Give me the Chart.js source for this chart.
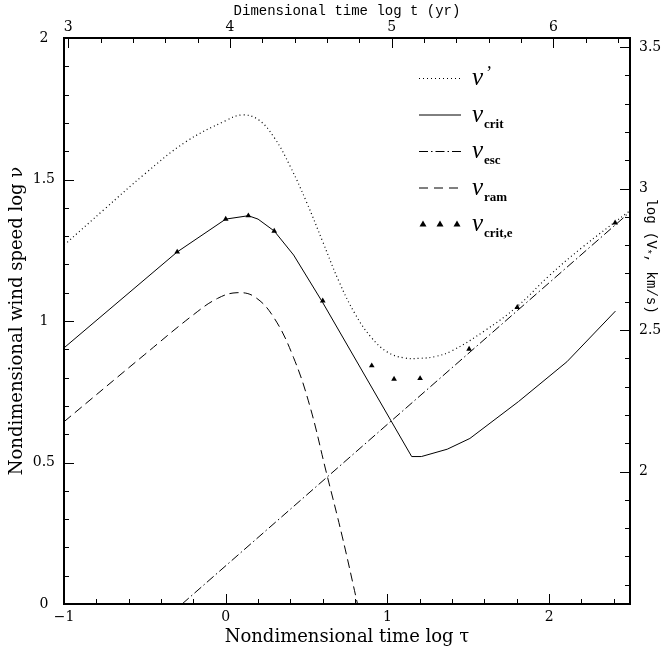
<!DOCTYPE html>
<html>
<head>
<meta charset="utf-8">
<script src="https://cdn.jsdelivr.net/npm/chart.js@4/dist/chart.umd.min.js"></script>
<style>
  body { margin: 0; background: #fff; }
</style>
</head>
<body>
<canvas id="windChart" width="663" height="653"></canvas>
<script>
// values: x = log tau, y = log nu
const tauPrime = [-1, -0.75, -0.5, -0.25, 0.0, 0.1, 0.2, 0.3, 0.4, 0.5, 0.6, 0.7, 0.8, 0.9, 1.0, 1.1, 1.2, 1.3, 1.4, 1.6, 1.8, 2.0, 2.2, 2.5];
const nuPrime = [1.268, 1.395, 1.52, 1.632, 1.708, 1.728, 1.712, 1.648, 1.545, 1.42, 1.28, 1.14, 1.025, 0.942, 0.89, 0.87, 0.868, 0.875, 0.895, 0.965, 1.05, 1.16, 1.258, 1.39];

const tauCrit = [-1, -0.3, 0.0, 0.14, 0.2, 0.3, 0.42, 0.6, 1.15, 1.21, 1.37, 1.51, 1.81, 2.11, 2.41];
const nuCrit = [0.905, 1.244, 1.36, 1.372, 1.36, 1.318, 1.233, 1.065, 0.521, 0.521, 0.547, 0.585, 0.715, 0.856, 1.035];

const tauEsc = [-0.27, 2.5];
const nuEsc = [0, 1.385];

const tauRam = [-1, -0.5, -0.2, -0.05, 0.07, 0.18, 0.3, 0.42, 0.52, 0.62, 0.72, 0.815];
const nuRam = [0.644, 0.882, 1.022, 1.08, 1.10, 1.085, 1.01, 0.87, 0.70, 0.47, 0.24, 0.0];

const tauCritE = [-0.3, 0.0, 0.14, 0.3, 0.6, 0.903, 1.041, 1.202, 1.505, 1.803, 2.408];
const nuCritE = [1.244, 1.36, 1.372, 1.318, 1.071, 0.842, 0.795, 0.797, 0.901, 1.048, 1.347];

// tick labels
const tauTicks = [-1, 0, 1, 2];
const logTTicks = [3, 4, 5, 6];
const nuTicks = [0, 0.5, 1, 1.5, 2];
const logVTicks = [2, 2.5, 3, 3.5];

// secondary axes are shifted copies of the main ones
const logTOffset = 3.974;
const logVOffset = 1.532;

const legendNames = ["'", 'crit', 'esc', 'ram', 'crit,e'];

function pts(xs, ys) {
  return xs.map((x, i) => ({ x: x, y: ys[i] }));
}

function minorTicks(from, to, step) {
  const arr = [];
  const n = Math.round((to - from) / step);
  for (let i = 0; i <= n; i++) {
    arr.push({ value: Math.round((from + i * step) * 1000) / 1000 });
  }
  return arr;
}

function tickLabel(v, majors) {
  for (let i = 0; i < majors.length; i++) {
    if (Math.abs(majors[i] - v) < 1e-6) return String(majors[i]).replace('-', '\u2212');
  }
  return '';
}

function isMajor(v, step) {
  return Math.abs(v / step - Math.round(v / step)) < 1e-6;
}

const serif = 'DejaVu Serif';
const mono = 'Liberation Mono';
const tickFont = { family: serif, size: 14 };

// inward tick marks and heavy frame
const frameAndTicks = {
  id: 'frameAndTicks',
  afterDatasetsDraw(chart) {
    const ctx = chart.ctx;
    const a = chart.chartArea;
    ctx.save();
    ctx.strokeStyle = '#000';
    ctx.lineWidth = 1;
    const sides = [['x', 'bottom', 1], ['x2', 'top', 1], ['y', 'left', 0.5], ['y2', 'right', 0.5]];
    sides.forEach(s => {
      const scale = chart.scales[s[0]];
      scale.ticks.forEach(t => {
        const p = Math.round(scale.getPixelForValue(t.value)) + 0.5;
        const len = isMajor(t.value, s[2]) ? 10 : 5;
        ctx.beginPath();
        if (s[1] === 'bottom') { ctx.moveTo(p, a.bottom); ctx.lineTo(p, a.bottom - len); }
        if (s[1] === 'top') { ctx.moveTo(p, a.top); ctx.lineTo(p, a.top + len); }
        if (s[1] === 'left') { ctx.moveTo(a.left, p); ctx.lineTo(a.left + len, p); }
        if (s[1] === 'right') { ctx.moveTo(a.right, p); ctx.lineTo(a.right - len, p); }
        ctx.stroke();
      });
    });
    ctx.lineWidth = 2;
    ctx.strokeRect(a.left, a.top, a.right - a.left, a.bottom - a.top);
    ctx.restore();
  }
};

// legend with subscripts, and the right axis title
const legendAndRightTitle = {
  id: 'legendAndRightTitle',
  afterDraw(chart) {
    const ctx = chart.ctx;
    ctx.save();
    ctx.strokeStyle = '#000';
    ctx.fillStyle = '#000';
    ctx.lineWidth = 1;
    const dashes = [[1, 3], [], [9, 3, 1.5, 3], [9, 6]];
    for (let i = 0; i < 5; i++) {
      const y = 78 + i * 36.5;
      if (i < 4) {
        ctx.setLineDash(dashes[i]);
        ctx.beginPath();
        ctx.moveTo(419, y + 0.5);
        ctx.lineTo(461, y + 0.5);
        ctx.stroke();
        ctx.setLineDash([]);
      } else {
        [423, 440, 457].forEach(x => {
          ctx.beginPath();
          ctx.moveTo(x, y - 3.5);
          ctx.lineTo(x + 3.5, y + 2.5);
          ctx.lineTo(x - 3.5, y + 2.5);
          ctx.closePath();
          ctx.fill();
        });
      }
      ctx.textBaseline = 'alphabetic';
      ctx.textAlign = 'left';
      ctx.font = 'italic 25px "Liberation Serif"';
      ctx.fillText('\u03bd', 472, y + 7);
      if (i === 0) {
        ctx.font = 'italic 18px "Liberation Serif"';
        ctx.fillText('\u2019', 485, y + 1);
      } else {
        ctx.font = 'bold 13px "Liberation Serif"';
        ctx.fillText(legendNames[i], 484, y + 13);
      }
    }

    // right axis title, reads top to bottom
    ctx.translate(651, 256);
    ctx.rotate(Math.PI / 2);
    const p1 = 'log (V';
    const p2 = ', km/s)';
    ctx.font = '14px "' + mono + '"';
    const w1 = ctx.measureText(p1).width;
    const w3 = ctx.measureText(p2).width;
    ctx.font = '10px "' + mono + '"';
    const w2 = ctx.measureText('*').width;
    let x = -(w1 + w2 + w3) / 2;
    ctx.textBaseline = 'middle';
    ctx.font = '14px "' + mono + '"';
    ctx.fillText(p1, x, 0);
    x += w1;
    ctx.font = '10px "' + mono + '"';
    ctx.fillText('*', x, 4);
    x += w2;
    ctx.font = '14px "' + mono + '"';
    ctx.fillText(p2, x, 0);
    ctx.restore();
  }
};

const lineBase = {
  showLine: true,
  pointRadius: 0,
  borderColor: '#000',
  borderWidth: 1,
  fill: false
};

new Chart('windChart', {
  type: 'scatter',
  data: {
    datasets: [
      Object.assign({}, lineBase, { label: "nu'", data: pts(tauPrime, nuPrime), borderDash: [1, 3], borderWidth: 1.2, tension: 0.4 }),
      Object.assign({}, lineBase, { label: 'nu crit', data: pts(tauCrit, nuCrit), tension: 0 }),
      Object.assign({}, lineBase, { label: 'nu esc', data: pts(tauEsc, nuEsc), borderDash: [9, 3, 1.5, 3] }),
      Object.assign({}, lineBase, { label: 'nu ram', data: pts(tauRam, nuRam), borderDash: [9, 5], tension: 0.4 }),
      {
        label: 'nu crit,e',
        data: pts(tauCritE, nuCritE),
        showLine: false,
        pointStyle: 'triangle',
        pointRadius: 3.3,
        pointBackgroundColor: '#000',
        pointBorderColor: '#000',
        pointBorderWidth: 0
      }
    ]
  },
  options: {
    responsive: false,
    animation: false,
    layout: { padding: 0 },
    plugins: { legend: { display: false }, tooltip: { enabled: false } },
    scales: {
      x: {
        type: 'linear', position: 'bottom', min: -1, max: 2.5,
        afterBuildTicks: s => { s.ticks = minorTicks(-1, 2.4, 0.2); },
        afterFit: s => { s.height = 49; },
        grid: { display: false, drawTicks: false },
        border: { display: false },
        ticks: { autoSkip: false, maxRotation: 0, padding: 5, color: '#000', font: tickFont, callback: v => tickLabel(v, tauTicks) },
        title: { display: true, text: 'Nondimensional time log \u03c4', color: '#000', font: { family: serif, size: 18 }, padding: { top: 0, bottom: 5 } }
      },
      x2: {
        type: 'linear', position: 'top', min: -1 + logTOffset, max: 2.5 + logTOffset,
        afterBuildTicks: s => { s.ticks = minorTicks(3, 6.4, 0.2); },
        afterFit: s => { s.height = 38; },
        grid: { display: false, drawTicks: false },
        border: { display: false },
        ticks: { autoSkip: false, maxRotation: 0, padding: 2, color: '#000', font: tickFont, callback: v => tickLabel(v, logTTicks) },
        title: { display: true, text: 'Dimensional time log t (yr)', color: '#000', font: { family: mono, size: 14 }, padding: { top: 3, bottom: 0 } }
      },
      y: {
        type: 'linear', position: 'left', min: 0, max: 2,
        afterBuildTicks: s => { s.ticks = minorTicks(0, 2, 0.1); },
        afterFit: s => { s.width = 64; },
        grid: { display: false, drawTicks: false },
        border: { display: false },
        ticks: { autoSkip: false, crossAlign: 'center', padding: 9, color: '#000', font: tickFont, callback: v => tickLabel(v, nuTicks) },
        title: { display: true, text: 'Nondimensional wind speed log \u03bd', color: '#000', font: { family: serif, size: 18 }, padding: { top: 7, bottom: 0 } }
      },
      y2: {
        type: 'linear', position: 'right', min: logVOffset, max: 2 + logVOffset,
        afterBuildTicks: s => { s.ticks = minorTicks(1.6, 3.5, 0.1); },
        afterFit: s => { s.width = 33; },
        grid: { display: false, drawTicks: false },
        border: { display: false },
        ticks: { autoSkip: false, padding: 9, color: '#000', font: tickFont, callback: v => tickLabel(v, logVTicks) }
      }
    }
  },
  plugins: [frameAndTicks, legendAndRightTitle]
});
</script>
</body>
</html>
